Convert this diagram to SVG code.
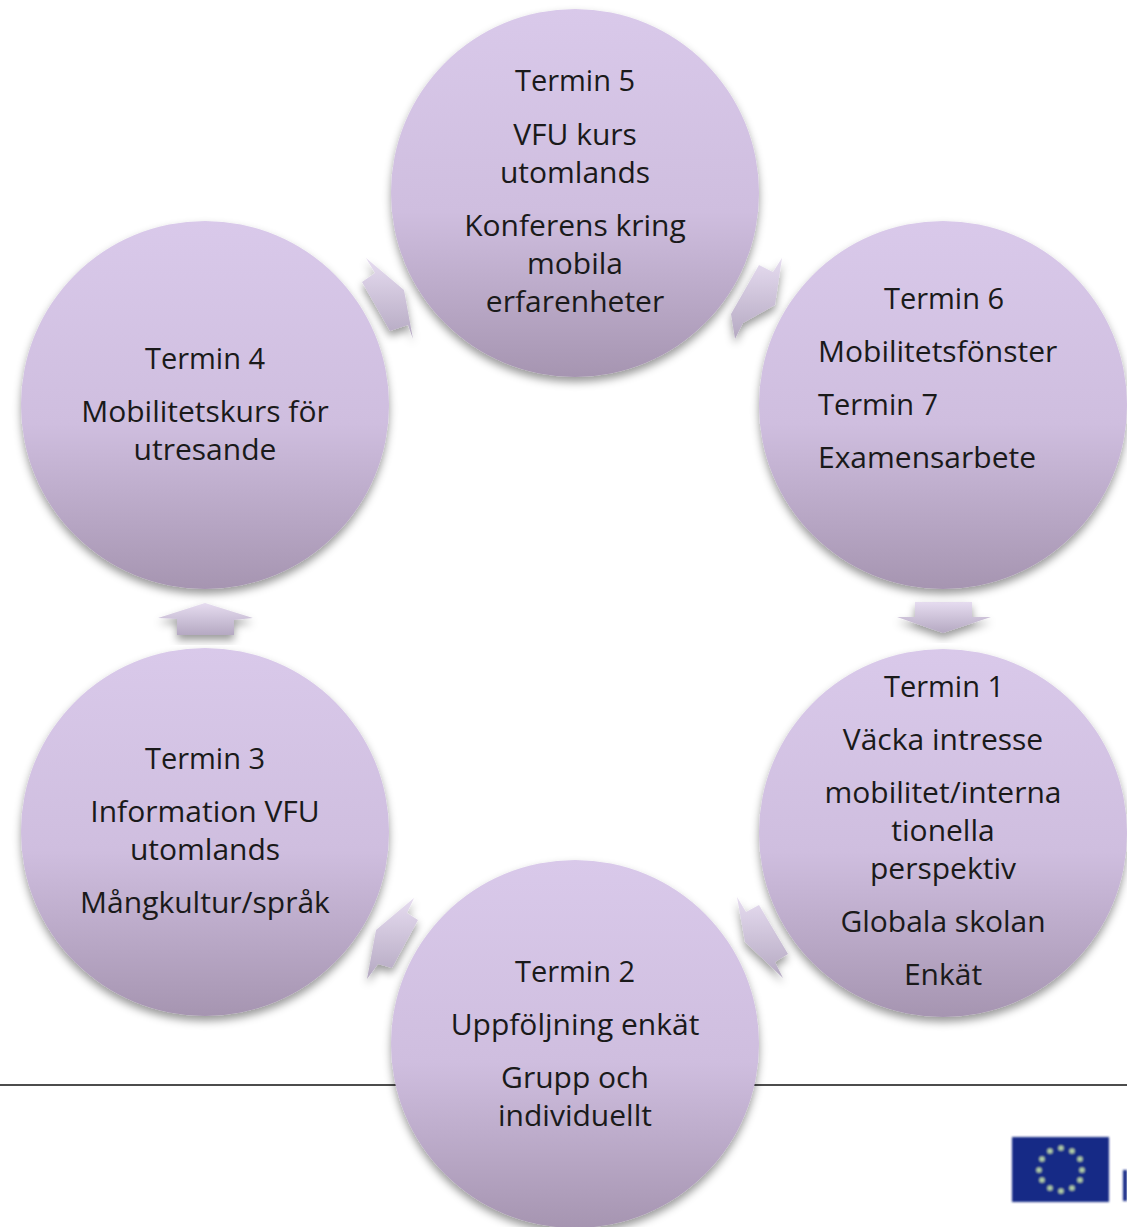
<svg xmlns="http://www.w3.org/2000/svg" width="1127" height="1227" viewBox="0 0 1127 1227">
<defs>
<linearGradient id="cg" x1="0" y1="0" x2="0" y2="1"><stop offset="0" stop-color="#d9c9ea"/><stop offset="0.55" stop-color="#cfbedf"/><stop offset="1" stop-color="#a695b1"/></linearGradient>
<linearGradient id="ag" x1="0" y1="0" x2="0" y2="1"><stop offset="0" stop-color="#e6dcf0"/><stop offset="1" stop-color="#b5a9c2"/></linearGradient>
<filter id="sh" x="-20%" y="-20%" width="140%" height="150%"><feDropShadow dx="0" dy="5" stdDeviation="4" flood-color="#000" flood-opacity="0.4"/></filter>
<filter id="bl" x="-10%" y="-10%" width="120%" height="120%"><feGaussianBlur stdDeviation="0.8"/></filter>
</defs>
<style>
.c{fill:url(#cg);filter:url(#sh)}
.a{fill:url(#ag);filter:url(#sh)}
text{font-family:"Open Sans","Noto Sans","Liberation Sans",sans-serif;font-size:30px;fill:#1a1a1a;text-anchor:middle}
.l{text-anchor:start}
.t{font-size:29px}
</style>
<rect width="1127" height="1227" fill="#fff"/>
<path d="M0 1085H1127" stroke="#111" stroke-width="1.5"/>
<g id="eu-flag" filter="url(#bl)"><rect x="1012" y="1137" width="97" height="65" fill="#172a86"/><rect x="1123" y="1170" width="4" height="31" fill="#172a86"/>
<g fill="#b4d0a8"><circle cx="1061" cy="1148" r="2.6"/><circle cx="1072" cy="1151" r="2.6"/><circle cx="1080" cy="1159" r="2.6"/><circle cx="1082" cy="1170" r="2.6"/><circle cx="1080" cy="1180" r="2.6"/><circle cx="1072" cy="1188" r="2.6"/><circle cx="1061" cy="1191" r="2.6"/><circle cx="1050" cy="1188" r="2.6"/><circle cx="1042" cy="1180" r="2.6"/><circle cx="1039" cy="1170" r="2.6"/><circle cx="1042" cy="1159" r="2.6"/><circle cx="1050" cy="1151" r="2.6"/></g></g>
<g id="connectors">
<polygon class="a" points="366,258 375,273 362,282 390,331 408,325 413,339 404,290"/>
<polygon class="a" points="759,265 773,272 782,258 775,305 743,323 735,339 731,314"/>
<polygon class="a" points="915,602 972,602 972,617 991,617 943,633 897,617 915,617"/>
<polygon class="a" points="737,897 746,912 759,905 788,954 775,962 783,978 745,942"/>
<polygon class="a" points="414,898 407,913 418,920 392,968 378,964 367,979 376,930"/>
<polygon class="a" points="205,603 253,618 234,620 234,635 177,635 177,619 158,618"/>
</g>
<g id="termin5"><circle class="c" cx="575" cy="193" r="184"/>
<text class="t" x="575" y="91">Termin 5</text><text x="575" y="145">VFU kurs</text><text x="575" y="183">utomlands</text><text x="575" y="236">Konferens kring</text><text x="575" y="274">mobila</text><text x="575" y="312">erfarenheter</text></g>
<g id="termin6"><circle class="c" cx="943" cy="405" r="184"/>
<text class="t" x="944" y="309">Termin 6</text><text class="l" x="818" y="362">Mobilitetsfönster</text><text class="l t" x="818" y="415">Termin 7</text><text class="l" x="818" y="468">Examensarbete</text></g>
<g id="termin1"><circle class="c" cx="943" cy="833" r="184"/>
<text class="t" x="944" y="697">Termin 1</text><text x="943" y="750">Väcka intresse</text><text x="943" y="803">mobilitet/interna</text><text x="943" y="841">tionella</text><text x="943" y="879">perspektiv</text><text x="943" y="932">Globala skolan</text><text x="943" y="985">Enkät</text></g>
<g id="termin2"><circle class="c" cx="575" cy="1044" r="184"/>
<text class="t" x="575" y="982">Termin 2</text><text x="575" y="1035">Uppföljning enkät</text><text x="575" y="1088">Grupp och</text><text x="575" y="1126">individuellt</text></g>
<g id="termin3"><circle class="c" cx="205" cy="832" r="184"/>
<text class="t" x="205" y="769">Termin 3</text><text x="205" y="822">Information VFU</text><text x="205" y="860">utomlands</text><text x="205" y="913">Mångkultur/språk</text></g>
<g id="termin4"><circle class="c" cx="205" cy="405" r="184"/>
<text class="t" x="205" y="369">Termin 4</text><text x="205" y="422">Mobilitetskurs för</text><text x="205" y="460">utresande</text></g>
</svg>
